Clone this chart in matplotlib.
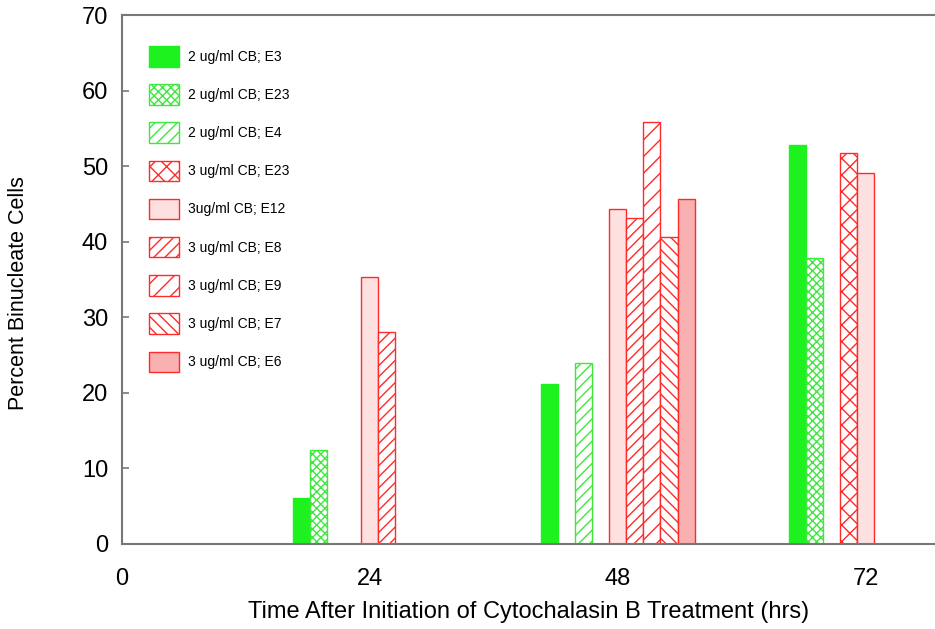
import matplotlib
matplotlib.use("Agg")
import matplotlib.pyplot as plt

plt.rcParams['font.family'] = ['Liberation Sans', 'DejaVu Sans']
plt.rcParams['hatch.linewidth'] = 1.0

# hours after CB treatment
times = [24, 48, 72]
tick_hours = [0, 24, 48, 72]

# percent binucleate cells per series (None = not measured)
cb2_e3 = [6.1, 21.2, 52.8]
cb2_e23 = [12.5, None, 37.9]
cb2_e4 = [None, 23.9, None]
cb3_e23 = [None, None, 51.7]
cb3_e12 = [35.3, 44.3, 49.1]
cb3_e8 = [28.1, 43.1, None]
cb3_e9 = [None, 55.8, None]
cb3_e7 = [None, 40.6, None]
cb3_e6 = [None, 45.6, None]

labels = ["2 ug/ml CB; E3", "2 ug/ml CB; E23", "2 ug/ml CB; E4",
          "3 ug/ml CB; E23", "3ug/ml CB; E12", "3 ug/ml CB; E8",
          "3 ug/ml CB; E9", "3 ug/ml CB; E7", "3 ug/ml CB; E6"]
series = [cb2_e3, cb2_e23, cb2_e4, cb3_e23, cb3_e12, cb3_e8, cb3_e9, cb3_e7, cb3_e6]

green = '#1ef21e'
green_edge = '#3ee83e'
red = '#ff2a2a'
styles = [
    dict(facecolor=green, edgecolor=green, hatch=None),
    dict(facecolor='white', edgecolor=green_edge, hatch='xxxx'),
    dict(facecolor='white', edgecolor=green_edge, hatch='///'),
    dict(facecolor='white', edgecolor=red, hatch='xx'),
    dict(facecolor='#fde0e0', edgecolor=red, hatch=None),
    dict(facecolor='white', edgecolor=red, hatch='///'),
    dict(facecolor='white', edgecolor=red, hatch='//'),
    dict(facecolor='white', edgecolor=red, hatch='\\\\\\'),
    dict(facecolor='#f9b0b0', edgecolor=red, hatch=None),
]

fig = plt.figure(figsize=(9.35, 6.29), dpi=100)
ax = fig.add_axes([122 / 935, 1 - 544 / 629, 1 - 122 / 935, (544 - 15) / 629])

width = 1.65
for i, (vals, lab, st) in enumerate(zip(series, labels, styles)):
    xs = [t + (i - 4) * width for t, v in zip(times, vals) if v is not None]
    ys = [v for v in vals if v is not None]
    ax.bar(xs, ys, width=width, label=lab, linewidth=1.0, **st)

ax.set_xlim(0, 78.7)
ax.set_ylim(0, 70)
ax.set_yticks(range(0, 71, 10))
ax.set_xticks(tick_hours)
ax.set_xticklabels([str(h) for h in tick_hours])

ax.spines['right'].set_visible(False)
for s in ['left', 'bottom', 'top']:
    ax.spines[s].set_color('#777777')
    ax.spines[s].set_linewidth(1.5)

ax.tick_params(axis='y', direction='in', length=5, width=1.2, color='#777777',
               labelsize=17, pad=10)
ax.tick_params(axis='x', length=0, labelsize=17, pad=17)

ax.set_xlabel("Time After Initiation of Cytochalasin B Treatment (hrs)", fontsize=17, labelpad=8)
ax.set_ylabel("Percent Binucleate Cells", fontsize=15.5)
ax.yaxis.set_label_coords(-0.114, 0.475)

ax.legend(loc='upper left', bbox_to_anchor=(0.026, 0.952), frameon=False,
          fontsize=10, handlelength=2.2, handleheight=1.9,
          labelspacing=1.27, handletextpad=0.6, borderaxespad=0)

fig.savefig("out.png", dpi=100)
